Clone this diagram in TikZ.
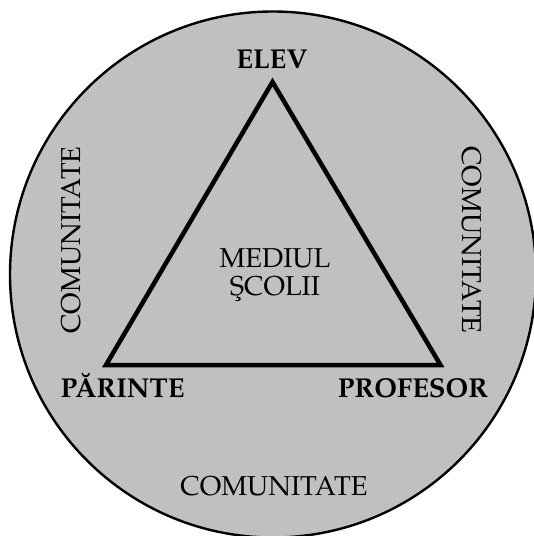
\documentclass[tikz,border=0pt]{standalone}
\usepackage[T1]{fontenc}
\usepackage{mathpazo}
\begin{document}
\begin{tikzpicture}[x=1pt,y=-1pt,
  lbl/.style={inner sep=0pt, font=\fontsize{27.3}{31}\selectfont},
  blbl/.style={inner sep=0pt, font=\fontsize{27.3}{31}\selectfont\bfseries}]
\useasboundingbox (0,0) rectangle (534,536);
\begin{scope}
\clip (0,0) rectangle (534,536);
\fill[white] (0,0) rectangle (534,536);
\draw[line width=2.4pt, fill={rgb,255:red,192;green,192;blue,192}] (273,274.5) circle[radius=263pt];
\end{scope}
\coordinate (top) at (272.5,82);
\coordinate (bl) at (106,365);
\coordinate (br) at (440.5,365);
\draw[line width=4.5pt, line join=miter] (top) -- (bl) -- (br) -- cycle;
\node[blbl, anchor=base] (elev) at (272,68) {ELEV};
\node[blbl, anchor=base] (parinte) at (122.6,397) {P\u{A}RINTE};
\node[blbl, anchor=base] (profesor) at (413,397) {PROFESOR};
\node[lbl, anchor=base] (mediul) at (275,267) {MEDIUL};
\node[lbl, anchor=base] (scolii) at (275,295) {\c{S}COLII};
\node[lbl, anchor=base] (comb) at (274,495.5) {COMUNITATE};
\node[lbl, anchor=base, rotate=90] (coml) at (80,240) {COMUNITATE};
\node[lbl, anchor=base, rotate=-90] (comr) at (462,240) {COMUNITATE};
\end{tikzpicture}
\end{document}
